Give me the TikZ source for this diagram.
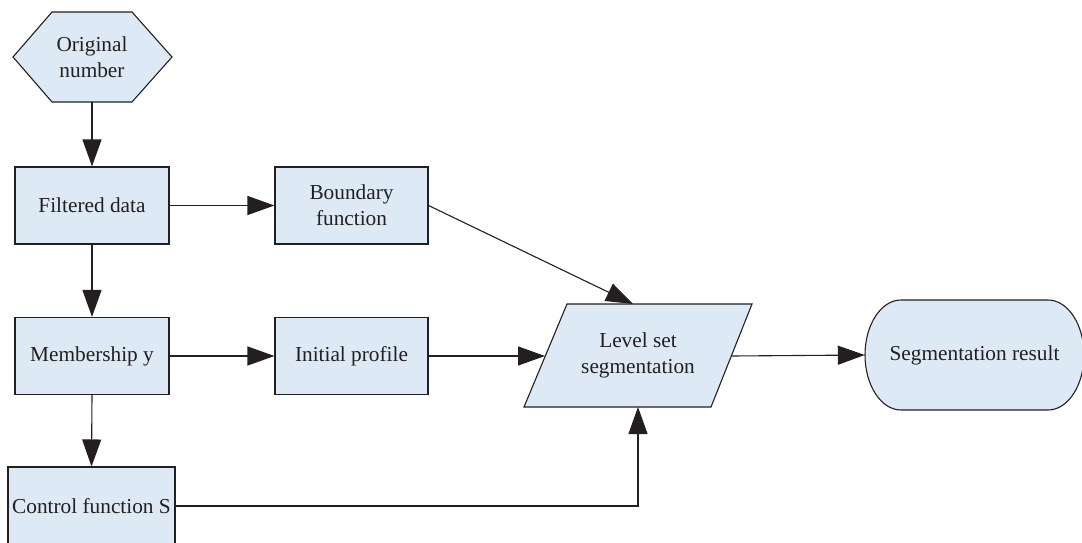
\documentclass[tikz,border=0pt]{standalone}
\usepackage{fontspec}
\setmainfont{Liberation Serif}
\usetikzlibrary{arrows.meta}
\definecolor{boxfill}{RGB}{221,234,245}
\definecolor{ink}{RGB}{35,31,32}
\tikzset{
  every node/.style={font=\fontsize{21.3}{26}\selectfont, text=ink, align=center, inner sep=0pt},
  shapeline/.style={draw=ink, line width=1.1pt, fill=boxfill},
  procbox/.style={shapeline, rectangle, minimum width=154pt, minimum height=77pt},
  conn/.style={draw=ink, line width=1.1pt, -{Triangle[length=27pt,width=19pt]}},
}
\begin{document}
\begin{tikzpicture}[x=1pt,y=-1pt]
\useasboundingbox (0,0) rectangle (1082,543);
% hexagon
\draw[shapeline] (13,57) -- (52,12) -- (132,12) -- (172,57) -- (132,102) -- (52,102) -- cycle;
\node (orig) at (92,57) {Original\\number};
\coordinate (origS) at (92,102);
% boxes
\node[procbox] (filt) at (92,205.5) {Filtered data};
\node[procbox, minimum width=153pt] (bound) at (351.5,205.5) {Boundary\\function};
\node[procbox] (memb) at (92,356) {Membership y};
\node[procbox, minimum width=153pt] (init) at (351.5,356) {Initial profile};
\node[procbox, minimum width=167pt, minimum height=78pt] (ctrl) at (91.5,506) {Control function S};
% parallelogram
\draw[shapeline] (524,407) -- (711,407) -- (752,304) -- (567,304) -- cycle;
\node (level) at (638,355.5) {Level set\\segmentation};
\coordinate (levelW) at (545,356);
\coordinate (levelE) at (732,356);
\coordinate (levelN) at (633,304);
\coordinate (levelS) at (638,407);
% terminal
\draw[shapeline] (901,300) -- (1048,300)
  arc[start angle=-90, end angle=90, x radius=36, y radius=55]
  -- (901,410)
  arc[start angle=90, end angle=270, x radius=36, y radius=55] -- cycle;
\node[minimum width=219pt, minimum height=110pt] (seg) at (974.5,355) {Segmentation result};
% connectors
\draw[conn] (origS) -- (filt.north);
\draw[conn] (filt.east) -- (bound.west);
\draw[conn] (filt.south) -- (memb.north);
\draw[conn] (memb.east) -- (init.west);
\draw[conn] (memb.south) -- (ctrl.north);
\draw[conn] (bound.east) -- (levelN);
\draw[conn] (init.east) -- (levelW);
\draw[conn] (ctrl.east) -| (levelS);
\draw[conn] (levelE) -- (seg.west);
\end{tikzpicture}
\end{document}
